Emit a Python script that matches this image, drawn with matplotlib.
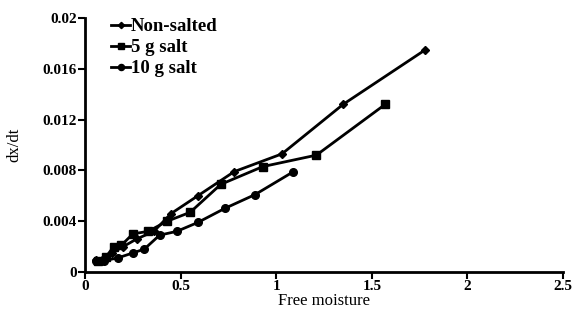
import numpy as np
import matplotlib
matplotlib.use("Agg")
import matplotlib.pyplot as plt

plt.rcParams['font.family'] = ['Liberation Serif', 'DejaVu Serif']
plt.rcParams['font.weight'] = 'bold'

# Non-salted
x_ns = [0.06, 0.10, 0.14, 0.20, 0.27, 0.36, 0.45, 0.59, 0.78, 1.03, 1.35, 1.78]
y_ns = [0.00095, 0.0011, 0.0015, 0.0020, 0.0026, 0.0032, 0.0046, 0.0060, 0.0079, 0.0093, 0.0132, 0.0175]
# 5 g salt
x_5 = [0.07, 0.11, 0.15, 0.19, 0.25, 0.33, 0.43, 0.55, 0.71, 0.93, 1.21, 1.57]
y_5 = [0.0009, 0.0012, 0.0020, 0.0021, 0.0030, 0.0032, 0.0040, 0.0047, 0.0069, 0.0083, 0.0092, 0.0132]
# 10 g salt
x_10 = [0.06, 0.10, 0.17, 0.25, 0.31, 0.39, 0.48, 0.59, 0.73, 0.89, 1.09]
y_10 = [0.0009, 0.0009, 0.0011, 0.0015, 0.0018, 0.0029, 0.0032, 0.0039, 0.0050, 0.0061, 0.0079]

fig = plt.figure(figsize=(5.76, 3.24), dpi=100)
ax = fig.add_axes([0.1476, 0.1605, 0.8299, 0.7840])

ax.plot(x_ns, y_ns, color='black', lw=2, marker='D', ms=4, label='Non-salted')
ax.plot(x_5, y_5, color='black', lw=2, marker='s', ms=5.5, label='5 g salt')
ax.plot(x_10, y_10, color='black', lw=2, marker='o', ms=5.5, label='10 g salt')

ax.set_xlim(0, 2.5)
ax.set_ylim(0, 0.02)
ax.set_xticks([0, 0.5, 1, 1.5, 2, 2.5])
ax.set_xticklabels(['0', '0.5', '1', '1.5', '2', '2.5'])
ax.set_yticks([0, 0.004, 0.008, 0.012, 0.016, 0.02])
ax.set_yticklabels(['0', '0.004', '0.008', '0.012', '0.016', '0.02'])

for s in ['top', 'right']:
    ax.spines[s].set_visible(False)
for s in ['left', 'bottom']:
    ax.spines[s].set_linewidth(2)
ax.tick_params(direction='out', width=1.5, length=5, labelsize=11, pad=1)

ax.set_xlabel('Free moisture', fontsize=12, fontweight='normal', labelpad=0)
ax.set_ylabel('dx/dt', fontsize=12, fontweight='normal', labelpad=14)

ax.legend(loc='upper left', bbox_to_anchor=(0.02, 1.065), frameon=False,
          fontsize=13.5, handlelength=1.0, handletextpad=0.05, labelspacing=0.2,
          markerscale=0.8)

fig.savefig('out.png', dpi=100)
